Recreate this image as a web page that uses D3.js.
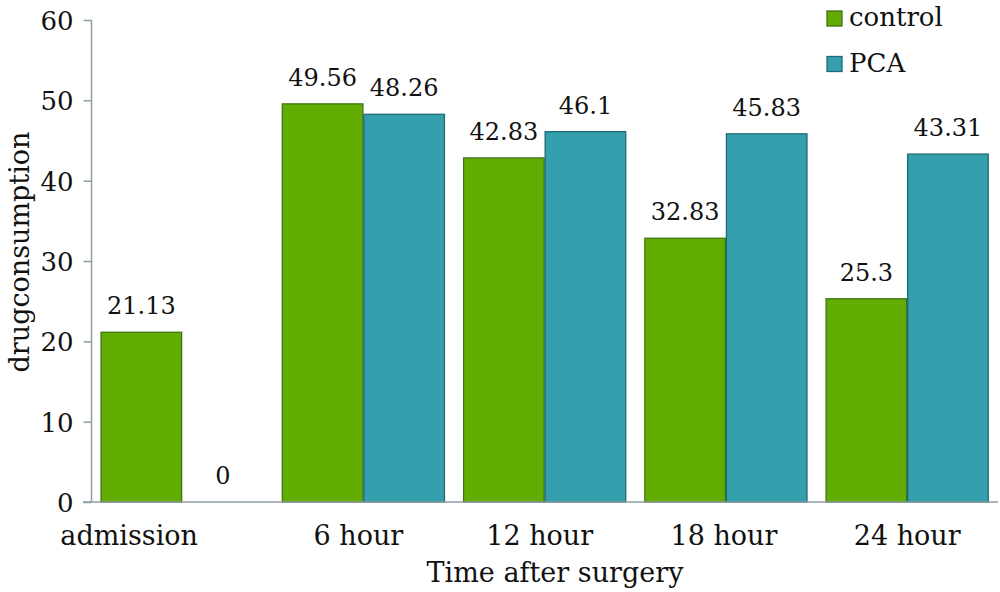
<!DOCTYPE html>
<html><head><meta charset="utf-8">
<script src="https://cdn.jsdelivr.net/npm/d3@7"></script>
<style>body{margin:0;background:#fff}svg{display:block}text{font-family:"DejaVu Serif",serif;fill:#111}</style>
</head><body><svg id="c" width="1000" height="592"></svg>
<script>
const categories = ["admission", "6 hour", "12 hour", "18 hour", "24 hour"];
const seriesNames = ["control", "PCA"];
const controlValues = [21.13, 49.56, 42.83, 32.83, 25.3];
const pcaValues = [0, 48.26, 46.1, 45.83, 43.31];
const yTicks = [0, 10, 20, 30, 40, 50, 60];
const colors = {control: "#63ad02", PCA: "#34a0ae"};
const strokes = {control: "#3f7414", PCA: "#1f6a76"};

const svg = d3.select("#c");
const x0 = d3.scaleBand().domain(categories).range([91.5, 997.8]).paddingInner(0.1).paddingOuter(0.05);
const x1 = d3.scaleBand().domain(seriesNames).range([0, x0.bandwidth()]);
const y = d3.scaleLinear().domain([0, 60]).range([502, 20]);
const axisColor = "#8c9ea5";

const data = categories.map((c, i) => ({cat: c, vals: [{s: "control", v: controlValues[i]}, {s: "PCA", v: pcaValues[i]}]}));

const g = svg.selectAll("g.grp").data(data).join("g").attr("class", "grp")
  .attr("transform", d => `translate(${x0(d.cat)},0)`);
g.selectAll("rect").data(d => d.vals.filter(o => o.v > 0)).join("rect")
  .attr("x", d => x1(d.s) + 0.5).attr("width", x1.bandwidth() - 1)
  .attr("y", d => y(d.v)).attr("height", d => y(0) - y(d.v))
  .attr("fill", d => colors[d.s]).attr("stroke", d => strokes[d.s]).attr("stroke-width", 1.3);
g.selectAll("text.lbl").data(d => d.vals).join("text").attr("class", "lbl")
  .attr("x", d => x1(d.s) + x1.bandwidth() / 2).attr("y", d => y(d.v) - 18)
  .attr("text-anchor", "middle").style("font-size", "24px").text(d => d.v);

// y axis
const ya = svg.append("g").attr("transform", "translate(91.5,0)")
  .call(d3.axisLeft(y).tickValues(yTicks).tickSize(8).tickPadding(10));
ya.select(".domain").attr("stroke", axisColor).attr("stroke-width", 1.5).attr("d", `M0,${y(60)}V${y(0)}`);
ya.selectAll(".tick line").attr("stroke", axisColor).attr("stroke-width", 1.5);
ya.selectAll(".tick text").style("font-size", "26px").style("font-family", "DejaVu Serif").attr("fill", "#111").attr("dy", "0.36em");

// x axis
const xa = svg.append("g").attr("transform", `translate(0,${y(0)})`)
  .call(d3.axisBottom(x0).tickSize(0).tickPadding(24));
xa.select(".domain").attr("stroke", axisColor).attr("stroke-width", 1.5).attr("d", "M83,0H998");
xa.selectAll(".tick text").style("font-size", "27px").style("font-family", "DejaVu Serif").attr("fill", "#111")
  .attr("dx", (d, i) => [-53, -5, -5, -2, 0][i]);

svg.append("text").attr("x", 555).attr("y", 582).attr("text-anchor", "middle").style("font-size", "27px").text("Time after surgery");
svg.append("text").attr("transform", "translate(29,252) rotate(-90)").attr("text-anchor", "middle").style("font-size", "27px").text("drugconsumption");

// legend
const lg = svg.append("g").selectAll("g").data(seriesNames).join("g")
  .attr("transform", (d, i) => `translate(827,${11 + i * 45.5})`);
lg.append("rect").attr("width", 15).attr("height", 15).attr("fill", d => colors[d]).attr("stroke", d => strokes[d]).attr("stroke-width", 1.3);
lg.append("text").attr("x", 22).attr("y", 15).style("font-size", "26px").text(d => d);
</script></body></html>
